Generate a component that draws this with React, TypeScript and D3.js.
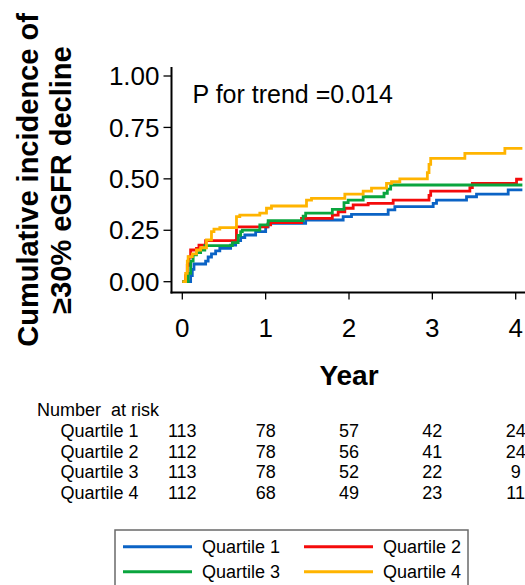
import React from "react";
import * as d3 from "d3";

const seriesNames = ["Quartile 1", "Quartile 2", "Quartile 3", "Quartile 4"];
const seriesColors = ["#0B63C5", "#F40B0B", "#0AA53E", "#FFB400"];

const q1: [number, number][] = [
  [0, 0], [0.1, 0.03], [0.12, 0.06], [0.14, 0.086], [0.28, 0.1], [0.31, 0.12], [0.35, 0.135],
  [0.4, 0.15], [0.45, 0.162], [0.58, 0.178], [0.64, 0.2], [0.7, 0.215], [0.75, 0.227],
  [0.88, 0.243], [1.0, 0.267], [1.03, 0.284], [1.48, 0.3], [1.93, 0.316], [2.03, 0.327],
  [2.47, 0.349], [2.55, 0.365], [3.01, 0.381], [3.05, 0.397], [3.41, 0.413], [3.53, 0.426],
  [3.91, 0.446], [4.08, 0.446],
];
const q2: [number, number][] = [
  [0, 0], [0.04, 0.03], [0.06, 0.08], [0.08, 0.12], [0.1, 0.154], [0.17, 0.162], [0.2, 0.178],
  [0.28, 0.2], [0.65, 0.267], [1.02, 0.276], [1.06, 0.287], [1.43, 0.308], [1.8, 0.324],
  [1.87, 0.34], [1.95, 0.357], [2.05, 0.373], [2.23, 0.381], [2.53, 0.397], [2.96, 0.42],
  [2.98, 0.44], [3.45, 0.457], [3.48, 0.478], [4.01, 0.498], [4.08, 0.498],
];
const q3: [number, number][] = [
  [0, 0], [0.07, 0.04], [0.1, 0.1], [0.13, 0.13], [0.17, 0.141], [0.22, 0.154], [0.27, 0.175],
  [0.6, 0.19], [0.67, 0.225], [0.7, 0.243], [0.72, 0.251], [0.93, 0.276], [1.03, 0.297],
  [1.45, 0.319], [1.48, 0.333], [1.8, 0.352], [1.94, 0.384], [1.99, 0.397], [2.17, 0.413],
  [2.42, 0.43], [2.46, 0.45], [2.5, 0.47], [4.08, 0.47],
];
const q4: [number, number][] = [
  [0, 0], [0.04, 0.04], [0.06, 0.1], [0.07, 0.122], [0.12, 0.135], [0.17, 0.154], [0.22, 0.165],
  [0.29, 0.203], [0.35, 0.243], [0.38, 0.256], [0.45, 0.263], [0.65, 0.316], [0.69, 0.324],
  [0.93, 0.333], [1.01, 0.357], [1.07, 0.368], [1.49, 0.397], [1.55, 0.405], [1.95, 0.426],
  [2.17, 0.44], [2.27, 0.455], [2.45, 0.478], [2.51, 0.486], [2.61, 0.5], [2.94, 0.53],
  [2.96, 0.57], [2.98, 0.6], [3.39, 0.624], [3.87, 0.648], [4.08, 0.648],
];
const seriesData = [q1, q2, q3, q4];

const xTicks = [0, 1, 2, 3, 4];
const yTicks = [0, 0.25, 0.5, 0.75, 1];
const riskTimes = [0, 1, 2, 3, 4];
const riskQ1 = [113, 78, 57, 42, 24];
const riskQ2 = [112, 78, 56, 41, 24];
const riskQ3 = [113, 78, 52, 22, 9];
const riskQ4 = [112, 68, 49, 23, 11];
const riskRows = [riskQ1, riskQ2, riskQ3, riskQ4];

const FONT = "'Liberation Sans', Arial, sans-serif";

export default function App() {
  const x = d3.scaleLinear().domain([0, 4]).range([182.3, 515.7]);
  const y = d3.scaleLinear().domain([0, 1]).range([281.7, 76]);
  const line = d3
    .line<[number, number]>()
    .x((d) => x(d[0]))
    .y((d) => y(d[1]))
    .curve(d3.curveStepAfter);

  const axisY = 292.5;
  const axisX = 171.5;

  return (
    <svg
      width={525}
      height={585}
      style={{ position: "absolute", left: 0, top: 0, background: "#fff" }}
      fontFamily={FONT}
    >
      <rect x={0} y={0} width={525} height={585} fill="#fff" />
      {/* Y title */}
      <g fontWeight="bold" fontSize={29} textAnchor="middle">
        <text transform="translate(38,180) rotate(-90)">Cumulative incidence of</text>
        <text transform="translate(71,180) rotate(-90)">≥30% eGFR decline</text>
      </g>
      {/* axes */}
      <line x1={axisX} x2={axisX} y1={67} y2={axisY + 1} stroke="#000" strokeWidth={2} />
      <line x1={axisX - 1} x2={525} y1={axisY} y2={axisY} stroke="#000" strokeWidth={2} />
      {yTicks.map((t) => (
        <g key={"y" + t}>
          <line x1={axisX - 8} x2={axisX} y1={y(t)} y2={y(t)} stroke="#000" strokeWidth={1.3} />
          <text x={axisX - 12} y={y(t)} dy="0.35em" textAnchor="end" fontSize={26}>
            {t.toFixed(2)}
          </text>
        </g>
      ))}
      {xTicks.map((t) => (
        <g key={"x" + t}>
          <line x1={x(t)} x2={x(t)} y1={axisY} y2={axisY + 7} stroke="#000" strokeWidth={1.3} />
          <text x={x(t)} y={337} textAnchor="middle" fontSize={26}>
            {t}
          </text>
        </g>
      ))}
      <text x={x(2)} y={385} textAnchor="middle" fontSize={28} fontWeight="bold">
        Year
      </text>
      <text x={192.5} y={103} fontSize={25}>
        P for trend =0.014
      </text>
      {/* curves */}
      {seriesData.map((d, i) => (
        <path
          key={"s" + i}
          d={line(d) || ""}
          fill="none"
          stroke={seriesColors[i]}
          strokeWidth={2.8}
        />
      ))}
      {/* risk table */}
      <g fontSize={18}>
        <text x={37} y={416} style={{ whiteSpace: "pre" }}>
          {"Number  at risk"}
        </text>
        {riskRows.map((row, r) => (
          <g key={"r" + r}>
            <text x={60.5} y={437 + r * 20.7}>
              {seriesNames[r]}
            </text>
            {row.map((v, j) => (
              <text key={j} x={x(riskTimes[j])} y={437 + r * 20.7} textAnchor="middle">
                {v}
              </text>
            ))}
          </g>
        ))}
      </g>
      {/* legend */}
      <rect x={115} y={530} width={353} height={70} fill="#fff" stroke="#6a6a6a" strokeWidth={1.5} />
      {seriesNames.map((n, i) => {
        const col = i % 2;
        const row = Math.floor(i / 2);
        const lx = col === 0 ? 123 : 304;
        const ly = 546.7 + row * 25;
        return (
          <g key={"l" + i}>
            <line x1={lx} x2={lx + 69} y1={ly} y2={ly} stroke={seriesColors[i]} strokeWidth={3} />
            <text x={lx + 79} y={ly + 6.5} fontSize={18}>
              {n}
            </text>
          </g>
        );
      })}
    </svg>
  );
}
